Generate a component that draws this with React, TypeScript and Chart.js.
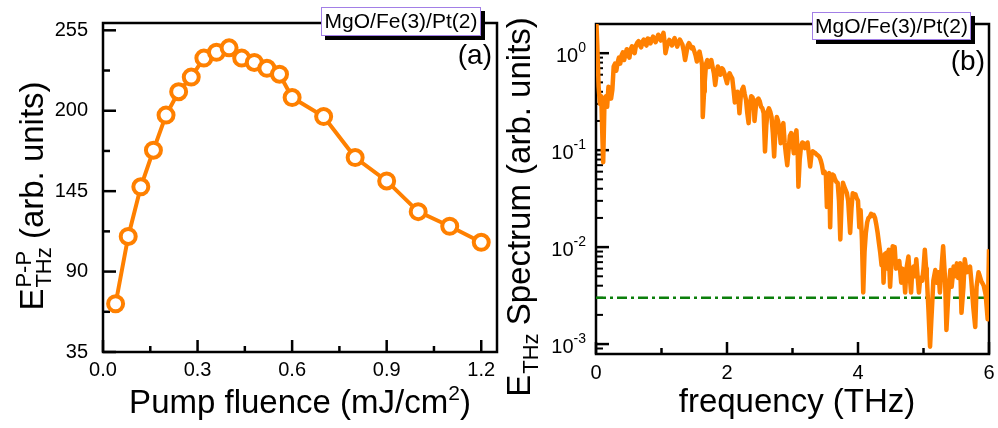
import React, { useEffect, useRef } from "react";
import { Chart, registerables } from "chart.js";

Chart.register(...registerables);

// ---------- Panel (a) data ----------
const fluence = [0.04, 0.08, 0.12, 0.16, 0.2, 0.24, 0.28, 0.32, 0.36, 0.4, 0.44, 0.48, 0.52, 0.56, 0.6, 0.7, 0.8, 0.9, 1.0, 1.1, 1.2];
const peakToPeak = [68, 114, 148, 173, 197, 213, 223, 236, 240, 243, 236, 233, 229, 225, 209, 196, 168, 152, 131, 121, 110];
const fluenceMajorTicks = [0, 0.3, 0.6, 0.9, 1.2];
const fluenceMinorTicks = [0.15, 0.45, 0.75, 1.05];
const fieldMajorTicks = [35, 90, 145, 200, 255];
const fieldMinorTicks = [62.5, 117.5, 172.5, 227.5];

// ---------- Panel (b) data ----------
const freq = [
  0, 0.02, 0.04, 0.06, 0.08, 0.1, 0.11, 0.13, 0.15, 0.17,
  0.19, 0.21, 0.23, 0.25, 0.27, 0.29, 0.31, 0.33, 0.35, 0.37,
  0.39, 0.41, 0.43, 0.45, 0.47, 0.49, 0.51, 0.53, 0.55, 0.57,
  0.59, 0.61, 0.63, 0.65, 0.67, 0.69, 0.71, 0.73, 0.75, 0.77,
  0.79, 0.81, 0.83, 0.85, 0.87, 0.89, 0.91, 0.93, 0.95, 0.97,
  0.99, 1.01, 1.03, 1.05, 1.06, 1.08, 1.1, 1.12, 1.14, 1.16,
  1.18, 1.2, 1.22, 1.24, 1.26, 1.28, 1.3, 1.32, 1.34, 1.36,
  1.38, 1.4, 1.42, 1.44, 1.46, 1.48, 1.5, 1.52, 1.54, 1.56,
  1.58, 1.6, 1.62, 1.63, 1.65, 1.66, 1.68, 1.7, 1.72, 1.74,
  1.76, 1.78, 1.8, 1.82, 1.84, 1.86, 1.88, 1.9, 1.92, 1.94,
  1.96, 1.98, 2.0, 2.02, 2.04, 2.06, 2.08, 2.1, 2.12, 2.14,
  2.16, 2.18, 2.19, 2.21, 2.23, 2.25, 2.27, 2.29, 2.31, 2.33,
  2.35, 2.37, 2.39, 2.41, 2.42, 2.44, 2.46, 2.48, 2.5, 2.52,
  2.54, 2.56, 2.58, 2.6, 2.62, 2.64, 2.66, 2.68, 2.7, 2.72,
  2.74, 2.76, 2.78, 2.8, 2.82, 2.84, 2.86, 2.88, 2.9, 2.92,
  2.94, 2.96, 2.98, 3.0, 3.02, 3.04, 3.06, 3.08, 3.09, 3.11,
  3.13, 3.15, 3.17, 3.19, 3.21, 3.23, 3.25, 3.27, 3.29, 3.31,
  3.33, 3.35, 3.37, 3.39, 3.41, 3.43, 3.45, 3.47, 3.49, 3.51,
  3.525, 3.54, 3.56, 3.575, 3.59, 3.61, 3.63, 3.65, 3.67, 3.69,
  3.71, 3.73, 3.75, 3.77, 3.79, 3.81, 3.83, 3.85, 3.87, 3.88,
  3.9, 3.92, 3.94, 3.96, 3.98, 4.0, 4.02, 4.04, 4.06, 4.08,
  4.1, 4.12, 4.14, 4.16, 4.18, 4.2, 4.22, 4.24, 4.26, 4.28,
  4.3, 4.32, 4.34, 4.36, 4.38, 4.39, 4.41, 4.43, 4.45, 4.47,
  4.49, 4.51, 4.53, 4.55, 4.56, 4.58, 4.6, 4.61, 4.63, 4.66,
  4.68, 4.7, 4.72, 4.74, 4.77, 4.79, 4.81, 4.83, 4.85, 4.87,
  4.89, 4.91, 4.93, 4.95, 4.98, 5.0, 5.02, 5.04, 5.05, 5.075,
  5.1, 5.12, 5.13, 5.15, 5.18, 5.2, 5.23, 5.25, 5.28, 5.3,
  5.32, 5.33, 5.35, 5.37, 5.38, 5.41, 5.43, 5.46, 5.48, 5.51,
  5.53, 5.56, 5.58, 5.61, 5.63, 5.66, 5.68, 5.71, 5.73, 5.76,
  5.79, 5.81, 5.84, 5.86, 5.88, 5.92, 5.95, 5.98, 5.99, 6.0,
];
const spectrum = [
  2.6, 1.2, 0.45, 0.3, 0.36, 0.12, 0.075, 0.33, 0.36, 0.28,
  0.45, 0.44, 0.34, 0.42, 0.73, 0.78, 0.66, 0.8, 0.9, 0.78,
  0.95, 1.02, 0.85, 0.98, 1.1, 0.95, 0.9, 1.1, 1.18, 1.05,
  1.0, 1.2, 1.28, 1.33, 1.2, 1.15, 1.32, 1.38, 1.25, 1.2,
  1.42, 1.4, 1.26, 1.35, 1.48, 1.42, 1.3, 1.42, 1.55, 1.45,
  1.35, 1.5, 1.62, 1.25, 1.0, 1.15, 1.28, 1.37, 1.3, 1.2,
  1.32, 1.43, 1.3, 1.17, 1.28, 1.38, 1.3, 1.22, 1.05, 0.85,
  1.0, 1.2, 1.27, 1.2, 1.12, 1.15, 1.05, 0.95, 0.82, 0.95,
  1.04, 0.9, 0.75, 0.22, 0.4, 0.5, 0.78, 0.85, 0.72, 0.8,
  0.85, 0.72, 0.62, 0.47, 0.6, 0.73, 0.65, 0.6, 0.7, 0.68,
  0.62, 0.55, 0.49, 0.58, 0.62, 0.58, 0.55, 0.42, 0.31, 0.38,
  0.4, 0.3, 0.24, 0.36, 0.42, 0.45, 0.38, 0.33, 0.24, 0.19,
  0.3, 0.36, 0.35, 0.3, 0.2, 0.28, 0.33, 0.34, 0.32, 0.28,
  0.27, 0.24, 0.097, 0.18, 0.25, 0.27, 0.25, 0.22, 0.15, 0.086,
  0.17, 0.22, 0.2, 0.16, 0.118, 0.17, 0.19, 0.12, 0.09, 0.07,
  0.1, 0.14, 0.15, 0.12, 0.093, 0.14, 0.16, 0.09, 0.042, 0.08,
  0.109, 0.12, 0.118, 0.105, 0.11, 0.12, 0.09, 0.068, 0.09, 0.097,
  0.095, 0.093, 0.09, 0.088, 0.085, 0.079, 0.07, 0.058, 0.06, 0.055,
  0.026, 0.05, 0.058, 0.016, 0.045, 0.056, 0.055, 0.05, 0.047, 0.046,
  0.03, 0.012, 0.03, 0.046, 0.042, 0.039, 0.036, 0.03, 0.018, 0.014,
  0.025, 0.036, 0.034, 0.035, 0.032, 0.03, 0.016, 0.024, 0.012, 0.0034,
  0.009, 0.014, 0.018, 0.02, 0.0205, 0.022, 0.021, 0.0215, 0.02, 0.017,
  0.014, 0.011, 0.0087, 0.0065, 0.0075, 0.0043, 0.0085, 0.0087, 0.006, 0.0094,
  0.0039, 0.007, 0.0102, 0.008, 0.01, 0.006, 0.0068, 0.0063, 0.0072, 0.0043,
  0.006, 0.0055, 0.0034, 0.006, 0.008, 0.005, 0.0034, 0.006, 0.0063, 0.005,
  0.0075, 0.005, 0.0034, 0.0048, 0.0045, 0.006, 0.0094, 0.006, 0.005, 0.0023,
  0.00094, 0.0018, 0.0024, 0.0045, 0.0058, 0.0043, 0.0055, 0.0034, 0.0068, 0.0102,
  0.006, 0.0045, 0.0014, 0.0025, 0.0034, 0.0058, 0.0039, 0.0063, 0.005, 0.0068,
  0.0048, 0.0068, 0.0021, 0.0039, 0.0075, 0.0055, 0.006, 0.0063, 0.0045, 0.0024,
  0.0015, 0.0039, 0.0055, 0.005, 0.0045, 0.004, 0.0032, 0.0018, 0.004, 0.0095,
];
const noiseFloor = 0.003;
const freqMajorTicks = [0, 2, 4, 6];
const freqMinorTicks = [1, 3, 5];
const specDecades = [0, -1, -2, -3];
const specMinorMultipliers = [2, 3, 4, 5, 6, 7, 8, 9];

const sampleLabel = "MgO/Fe(3)/Pt(2)";
const ORANGE = "#ff8000";
const GREEN = "#0b7f0b";
const FONT = '"Liberation Sans", Arial, Helvetica, sans-serif';
const fnt = (s: number) => `${s}px ${FONT}`;

function drawFrame(chart: any) {
  const { ctx, chartArea: a } = chart;
  ctx.save();
  ctx.strokeStyle = "#000";
  ctx.lineWidth = 2.5;
  ctx.strokeRect(a.left, a.top, a.right - a.left, a.bottom - a.top);
  ctx.restore();
}

function xTick(chart: any, v: number, len: number) {
  const { ctx, chartArea: a, scales } = chart;
  const x = scales.x.getPixelForValue(v);
  ctx.beginPath();
  ctx.moveTo(x, a.bottom);
  ctx.lineTo(x, a.bottom - len);
  ctx.stroke();
}
function yTick(chart: any, v: number, len: number) {
  const { ctx, chartArea: a, scales } = chart;
  const y = scales.y.getPixelForValue(v);
  ctx.beginPath();
  ctx.moveTo(a.left, y);
  ctx.lineTo(a.left + len, y);
  ctx.stroke();
}

function drawLegendBox(ctx: CanvasRenderingContext2D, x: number, y: number, w: number, h: number) {
  ctx.save();
  ctx.fillStyle = "#000";
  ctx.fillRect(x + 4, y + 4, w, h);
  ctx.fillStyle = "#fff";
  ctx.fillRect(x, y, w, h);
  ctx.strokeStyle = "#a27fe6";
  ctx.lineWidth = 1;
  ctx.strokeRect(x + 0.5, y + 0.5, w - 1, h - 1);
  ctx.fillStyle = "#000";
  ctx.font = fnt(21);
  ctx.textAlign = "center";
  ctx.textBaseline = "middle";
  ctx.fillText(sampleLabel, x + w / 2, y + h / 2 + 1);
  ctx.restore();
}

// rotated y title: main "E" + stacked sup/sub + rest
function drawYTitle(ctx: CanvasRenderingContext2D, cx: number, cy: number, sup: string, sub: string, rest: string) {
  ctx.save();
  ctx.translate(cx, cy);
  ctx.rotate(-Math.PI / 2);
  ctx.fillStyle = "#000";
  ctx.textBaseline = "alphabetic";
  ctx.textAlign = "left";
  ctx.font = fnt(33);
  const wE = ctx.measureText("E").width;
  const wRest = ctx.measureText(rest).width;
  ctx.font = fnt(22);
  const wSup = sup ? ctx.measureText(sup).width : 0;
  const wSub = ctx.measureText(sub).width;
  const wS = Math.max(wSup, wSub);
  const total = wE + wS + wRest;
  let x = -total / 2;
  ctx.font = fnt(33);
  ctx.fillText("E", x, 0);
  x += wE;
  ctx.font = fnt(22);
  if (sup) ctx.fillText(sup, x + 1, -12);
  ctx.fillText(sub, x + 1, 8);
  x += wS;
  ctx.font = fnt(33);
  ctx.fillText(rest, x, 0);
  ctx.restore();
}

const panelAPlugin = {
  id: "panelA",
  beforeDatasetsDraw(chart: any) {
    const { ctx } = chart;
    drawFrame(chart);
    ctx.save();
    ctx.strokeStyle = "#000";
    ctx.lineWidth = 2.5;
    fluenceMajorTicks.forEach((v) => xTick(chart, v, 12));
    fluenceMinorTicks.forEach((v) => xTick(chart, v, 6));
    fieldMajorTicks.forEach((v) => yTick(chart, v, 13));
    fieldMinorTicks.forEach((v) => yTick(chart, v, 7));
    ctx.restore();
  },
  afterDraw(chart: any) {
    const { ctx, chartArea: a, scales } = chart;
    ctx.save();
    ctx.fillStyle = "#000";
    ctx.font = fnt(20);
    ctx.textAlign = "center";
    ctx.textBaseline = "middle";
    fluenceMajorTicks.forEach((v) => ctx.fillText(v.toFixed(1), scales.x.getPixelForValue(v), a.bottom + 18));
    ctx.textAlign = "right";
    fieldMajorTicks.forEach((v) => ctx.fillText(String(v), a.left - 15, scales.y.getPixelForValue(v)));
    // x title
    ctx.textBaseline = "alphabetic";
    ctx.textAlign = "left";
    const t1 = "Pump fluence (mJ/cm";
    ctx.font = fnt(33);
    const w1 = ctx.measureText(t1).width;
    const w3 = ctx.measureText(")").width;
    ctx.font = fnt(21);
    const w2 = ctx.measureText("2").width;
    let x = 300 - (w1 + w2 + w3) / 2;
    ctx.font = fnt(33);
    ctx.fillText(t1, x, 413);
    ctx.font = fnt(21);
    ctx.fillText("2", x + w1, 400);
    ctx.font = fnt(33);
    ctx.fillText(")", x + w1 + w2, 413);
    // (a)
    ctx.font = fnt(28);
    ctx.textAlign = "right";
    ctx.textBaseline = "middle";
    ctx.fillText("(a)", a.right - 5, 56);
    ctx.restore();
    drawYTitle(ctx, 43, 196, "P-P", "THz", " (arb. units)");
    drawLegendBox(ctx, 321, 7, 160, 29);
  },
};

const panelBPlugin = {
  id: "panelB",
  beforeDatasetsDraw(chart: any) {
    const { ctx, scales } = chart;
    drawFrame(chart);
    ctx.save();
    ctx.strokeStyle = "#000";
    ctx.lineWidth = 2.5;
    freqMajorTicks.forEach((v) => xTick(chart, v, 12));
    freqMinorTicks.forEach((v) => xTick(chart, v, 6));
    specDecades.forEach((d) => yTick(chart, Math.pow(10, d), 13));
    ctx.lineWidth = 2;
    specDecades.forEach((d) => {
      if (d === 0) return;
      specMinorMultipliers.forEach((m) => yTick(chart, m * Math.pow(10, d), 7));
    });
    const lowest = 9 * Math.pow(10, -4);
    if (lowest > scales.y.min) yTick(chart, lowest, 7);
    ctx.restore();
  },
  afterDraw(chart: any) {
    const { ctx, chartArea: a, scales } = chart;
    ctx.save();
    ctx.fillStyle = "#000";
    ctx.font = fnt(20);
    ctx.textAlign = "center";
    ctx.textBaseline = "middle";
    freqMajorTicks.forEach((v) => ctx.fillText(String(v), scales.x.getPixelForValue(v), a.bottom + 19));
    // log labels 10^n
    specDecades.forEach((d) => {
      const y = scales.y.getPixelForValue(Math.pow(10, d));
      const exp = String(d);
      ctx.font = fnt(14);
      const we = ctx.measureText(exp).width;
      ctx.font = fnt(20);
      const wb = ctx.measureText("10").width;
      const right = a.left - 10;
      ctx.textAlign = "left";
      ctx.textBaseline = "alphabetic";
      ctx.fillText("10", right - we - wb, y + 9);
      ctx.font = fnt(14);
      ctx.fillText(exp, right - we, y - 1);
    });
    // x title
    ctx.font = fnt(33);
    ctx.textAlign = "center";
    ctx.textBaseline = "alphabetic";
    ctx.fillText("frequency (THz)", 297, 412);
    // (b)
    ctx.font = fnt(28);
    ctx.textAlign = "right";
    ctx.textBaseline = "middle";
    ctx.fillText("(b)", a.right - 4, 62);
    ctx.restore();
    drawYTitle(ctx, 30, 207, "", "THz", " Spectrum (arb. units)");
    drawLegendBox(ctx, 312, 12, 159, 28);
  },
};

function hiddenScale(extra: any, fit: (s: any) => void) {
  return {
    display: true,
    grid: { display: false },
    border: { display: false },
    ticks: { display: false },
    title: { display: false },
    afterFit: fit,
    ...extra,
  };
}

export default function App() {
  const refA = useRef<HTMLCanvasElement>(null);
  const refB = useRef<HTMLCanvasElement>(null);

  useEffect(() => {
    const chartA = new Chart(refA.current as HTMLCanvasElement, {
      type: "line",
      data: {
        datasets: [
          {
            data: fluence.map((f, i) => ({ x: f, y: peakToPeak[i] })),
            borderColor: ORANGE,
            borderWidth: 4,
            pointRadius: 7.5,
            pointBorderWidth: 4,
            pointBorderColor: ORANGE,
            pointBackgroundColor: "#fff",
            tension: 0,
            clip: false,
          },
        ],
      },
      options: {
        responsive: false,
        animation: false,
        layout: { padding: { left: 0, top: 23, right: 13, bottom: 0 } },
        plugins: { legend: { display: false }, tooltip: { enabled: false } },
        events: [],
        scales: {
          x: hiddenScale({ type: "linear", min: 0, max: 1.25 }, (s: any) => { s.height = 76; }),
          y: hiddenScale({ type: "linear", min: 35, max: 260 }, (s: any) => { s.width = 103; }),
        },
      } as any,
      plugins: [panelAPlugin],
    });

    const chartB = new Chart(refB.current as HTMLCanvasElement, {
      type: "line",
      data: {
        datasets: [
          {
            data: freq.map((f, i) => ({ x: f, y: spectrum[i] })),
            borderColor: ORANGE,
            borderWidth: 4.5,
            pointRadius: 0,
            tension: 0,
            borderJoinStyle: "round",
          },
          {
            data: [
              { x: freqMajorTicks[0], y: noiseFloor },
              { x: freqMajorTicks[freqMajorTicks.length - 1], y: noiseFloor },
            ],
            borderColor: GREEN,
            borderWidth: 2.5,
            borderDash: [10, 4, 3, 4],
            pointRadius: 0,
          },
        ],
      },
      options: {
        responsive: false,
        animation: false,
        layout: { padding: { left: 0, top: 24, right: 9, bottom: 0 } },
        plugins: { legend: { display: false }, tooltip: { enabled: false } },
        events: [],
        scales: {
          x: hiddenScale({ type: "linear", min: 0, max: 6 }, (s: any) => { s.height = 74; }),
          y: hiddenScale({ type: "logarithmic", min: 0.00079, max: 2.0 }, (s: any) => { s.width = 96; }),
        },
      } as any,
      plugins: [panelBPlugin],
    });

    return () => {
      chartA.destroy();
      chartB.destroy();
    };
  }, []);

  return (
    <div style={{ position: "absolute", left: 0, top: 0, width: 998, height: 428, background: "#fff", overflow: "hidden" }}>
      <canvas ref={refA} width={510} height={428} style={{ position: "absolute", left: 0, top: 0 }} />
      <canvas ref={refB} width={498} height={428} style={{ position: "absolute", left: 500, top: 0 }} />
    </div>
  );
}
